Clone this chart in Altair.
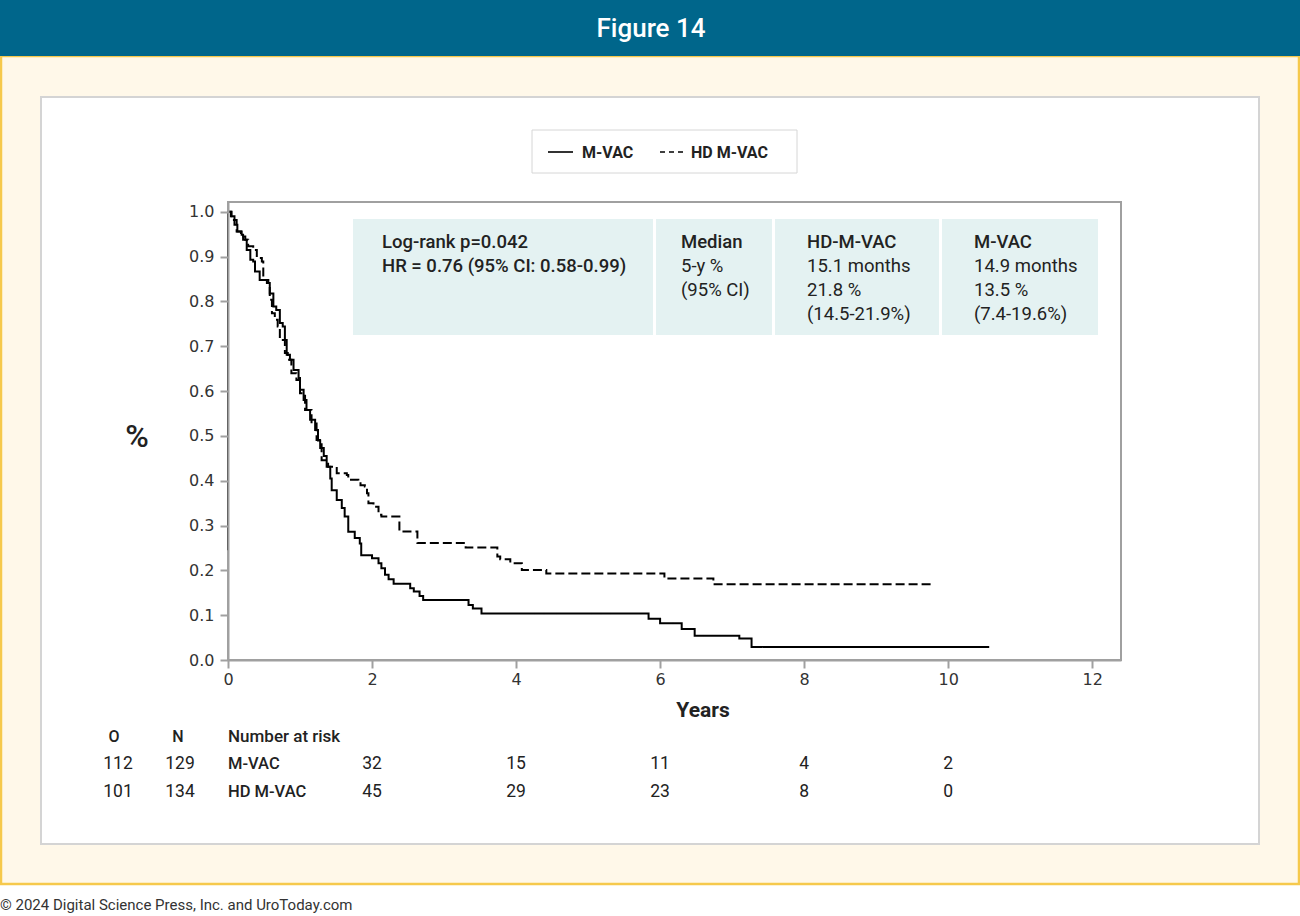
import altair as alt
import pandas as pd

# ---------------- data ----------------
groups = ["M-VAC", "HD M-VAC"]

mvac_t = [0, 0.04, 0.09, 0.13, 0.19, 0.21, 0.26, 0.31, 0.35, 0.375, 0.44, 0.54, 0.58, 0.63,
          0.67, 0.72, 0.76, 0.79, 0.815, 0.86, 0.91, 0.98, 1.0, 1.05, 1.09, 1.14, 1.21, 1.25,
          1.28, 1.33, 1.37, 1.42, 1.44, 1.51, 1.58, 1.62, 1.67, 1.76, 1.83, 1.85, 2.0, 2.09,
          2.13, 2.18, 2.23, 2.30, 2.53, 2.58, 2.66, 2.71, 3.34, 3.40, 3.52, 5.84, 6.0, 6.30,
          6.48, 7.10, 7.27, 10.57]
mvac_s = [1.0, 0.99, 0.971, 0.956, 0.949, 0.938, 0.915, 0.893, 0.889, 0.867, 0.848, 0.841, 0.818,
          0.789, 0.781, 0.752, 0.744, 0.714, 0.681, 0.67, 0.647, 0.629, 0.603, 0.58, 0.558, 0.536,
          0.513, 0.49, 0.473, 0.455, 0.431, 0.405, 0.379, 0.357, 0.339, 0.32, 0.286, 0.272, 0.26,
          0.234, 0.227, 0.216, 0.205, 0.19, 0.18, 0.17, 0.16, 0.153, 0.143, 0.134, 0.123, 0.115,
          0.104, 0.092, 0.082, 0.069, 0.054, 0.048, 0.029, 0.029]

hd_t = [0, 0.05, 0.12, 0.18, 0.24, 0.28, 0.35, 0.40, 0.47, 0.49, 0.56, 0.58, 0.61, 0.65, 0.69,
        0.72, 0.79, 0.83, 0.88, 0.95, 1.0, 1.07, 1.16, 1.23, 1.30, 1.39, 1.51, 1.65, 1.67, 1.81,
        1.84, 1.90, 1.93, 1.95, 2.02, 2.09, 2.13, 2.38, 2.63, 3.30, 3.74, 3.78, 3.92, 4.08, 4.42,
        6.06, 6.74, 9.78]
hd_s = [1.0, 0.982, 0.956, 0.945, 0.938, 0.923, 0.915, 0.897, 0.889, 0.848, 0.841, 0.804, 0.774,
        0.759, 0.744, 0.714, 0.685, 0.67, 0.64, 0.625, 0.595, 0.558, 0.528, 0.491, 0.446, 0.431,
        0.417, 0.413, 0.402, 0.398, 0.39, 0.387, 0.372, 0.35, 0.342, 0.324, 0.32, 0.287, 0.261,
        0.251, 0.231, 0.225, 0.216, 0.201, 0.193, 0.182, 0.169, 0.169]

# vertical segment drawn at time 0
artifact_t = [0, 0]
artifact_s = [0.245, 1.0]

x_ticks = [0, 2, 4, 6, 8, 10, 12]
y_ticks = [0.0, 0.1, 0.2, 0.3, 0.4, 0.5, 0.6, 0.7, 0.8, 0.9, 1.0]

risk_times = [2, 4, 6, 8, 10]
risk_mvac = [32, 15, 11, 4, 2]
risk_hd = [45, 29, 23, 8, 0]
observed = ["112", "101"]
number = ["129", "134"]

title_text = "Figure 14"
footer_text = "© 2024 Digital Science Press, Inc. and UroToday.com"
x_title = "Years"
y_title = "%"
risk_header = ["O", "N", "Number at risk"]

info_col1 = ["Log-rank p=0.042", "HR = 0.76 (95% CI: 0.58-0.99)"]
info_col2_head = "Median"
info_col2 = ["5-y %", "(95% CI)"]
info_col3_head = "HD-M-VAC"
info_col3 = ["15.1 months", "21.8 %", "(14.5-21.9%)"]
info_col4_head = "M-VAC"
info_col4 = ["14.9 months", "13.5 %", "(7.4-19.6%)"]

# ---------------- layout ----------------
W, H = 893, 458
PL, PT = 228, 202
FONT = "Roboto"
one = pd.DataFrame({"a": [0]})


def rx(X):
    return X - PL


def ry(Y):
    return Y - PT


def box(X1, Y1, X2, Y2, fill, stroke=None, sw=0, fo=1.0):
    kw = dict(fill=fill, fillOpacity=fo)
    if stroke:
        kw.update(stroke=stroke, strokeWidth=sw)
    return alt.Chart(one).mark_rect(**kw).encode(
        x=alt.value(rx(X1)), x2=alt.value(rx(X2)), y=alt.value(ry(Y1)), y2=alt.value(ry(Y2)))


def label(X, Y, txt, size=17, weight="normal", align="left", color="#222222",
          font=FONT, baseline="middle", lh=None):
    kw = dict(align=align, baseline=baseline, font=font, fontSize=size,
              fontWeight=weight, color=color)
    if lh:
        kw["lineHeight"] = lh
    return alt.Chart(one).mark_text(**kw).encode(
        x=alt.value(rx(X)), y=alt.value(ry(Y)), text=alt.value(txt))


layers = []
# page background pieces
layers.append(box(1, 56, 1299, 884, "#FFF8E9", "#F6C94C", 2.5))
layers.append(box(0, 0, 1300, 56, "#00668B"))
layers.append(box(41, 97, 1259, 844, "#FFFFFF", "#D4D4D4", 2))
layers.append(label(651, 29, title_text, size=26, weight=500, align="center", color="#FFFFFF"))
layers.append(label(0, 905, footer_text, size=15, color="#333333"))

# legend
layers.append(box(532, 130, 797, 173, "#FFFFFF", "#D6D6D6", 1))
layers.append(alt.Chart(one).mark_rule(color="black", strokeWidth=1.6).encode(
    x=alt.value(rx(548)), x2=alt.value(rx(573)), y=alt.value(ry(152))))
layers.append(alt.Chart(one).mark_rule(color="black", strokeWidth=1.6, strokeDash=[5, 4]).encode(
    x=alt.value(rx(660)), x2=alt.value(rx(686)), y=alt.value(ry(152))))
layers.append(label(582, 153, groups[0], size=16, weight="bold"))
layers.append(label(691, 153, groups[1], size=16, weight="bold"))

# info table
INFO = "#E4F2F2"
FS = 18.5
layers.append(box(353, 219, 653, 335, INFO))
layers.append(box(656, 219, 772, 335, INFO))
layers.append(box(775, 219, 939, 335, INFO))
layers.append(box(942, 219, 1098, 335, INFO))
layers.append(label(382, 233, info_col1, size=FS, weight=500, baseline="top", lh=24))
layers.append(label(681, 233, info_col2_head, size=FS, weight=500, baseline="top"))
layers.append(label(681, 257, info_col2, size=FS, baseline="top", lh=24))
layers.append(label(807, 233, info_col3_head, size=FS, weight=500, baseline="top"))
layers.append(label(807, 257, info_col3, size=FS, baseline="top", lh=24))
layers.append(label(974, 233, info_col4_head, size=FS, weight=500, baseline="top"))
layers.append(label(974, 257, info_col4, size=FS, baseline="top", lh=24))

# plot frame
layers.append(alt.Chart(one).mark_rect(fillOpacity=0, stroke="#A0A0A0", strokeWidth=2).encode(
    x=alt.value(0), x2=alt.value(W), y=alt.value(0), y2=alt.value(H)))

# axis titles
layers.append(label(137, 437, y_title, size=32, weight=500, align="center"))
layers.append(label(703, 711, x_title, size=21, weight="bold", align="center"))

# curves
xscale = alt.Scale(domain=[0, 12.4], nice=False, zero=False)
yscale = alt.Scale(domain=[0, 1.022], nice=False, zero=False)
xaxis = alt.Axis(values=x_ticks, format="d", title=None, grid=False, domainColor="#A0A0A0",
                 domainWidth=2, tickColor="#A0A0A0", tickWidth=2, tickSize=8,
                 labelFont="DejaVu Sans", labelFontSize=16, labelColor="#333333",
                 labelPadding=3, labelFlush=False, zindex=1)
yaxis = alt.Axis(values=y_ticks, format=".1f", title=None, grid=False, domainColor="#A0A0A0",
                 domainWidth=2, tickColor="#A0A0A0", tickWidth=2, tickSize=8,
                 labelFont="DejaVu Sans", labelFontSize=16, labelColor="#333333",
                 labelPadding=6, labelFlush=False, zindex=1)

curves = pd.concat([
    pd.DataFrame({"t": mvac_t, "s": mvac_s, "group": groups[0]}),
    pd.DataFrame({"t": hd_t, "s": hd_s, "group": groups[1]}),
])
layers.append(alt.Chart(curves).mark_line(interpolate="step-after", color="black",
                                          strokeWidth=2).encode(
    x=alt.X("t:Q", scale=xscale, axis=xaxis),
    y=alt.Y("s:Q", scale=yscale, axis=yaxis),
    strokeDash=alt.StrokeDash("group:N", scale=alt.Scale(domain=groups, range=[[1, 0], [9, 4]]),
                              legend=None),
))
art = pd.DataFrame({"t": artifact_t, "s": artifact_s})
layers.append(alt.Chart(art).mark_line(color="black", strokeWidth=1.5).encode(
    x=alt.X("t:Q", scale=xscale), y=alt.Y("s:Q", scale=yscale)))

# risk table
layers.append(label(114, 737, risk_header[0], size=16, weight=500, align="center"))
layers.append(label(178, 737, risk_header[1], size=16, weight=500, align="center"))
layers.append(label(228, 737, risk_header[2], size=17, weight=500))
for i, (Y, g, vals) in enumerate([(764, groups[0], risk_mvac), (792, groups[1], risk_hd)]):
    layers.append(label(118, Y, observed[i], size=17.5, align="center"))
    layers.append(label(180, Y, number[i], size=17.5, align="center"))
    layers.append(label(228, Y, g, size=16.5, weight=500))
    rdf = pd.DataFrame({"t": risk_times, "n": vals})
    layers.append(alt.Chart(rdf).mark_text(font=FONT, fontSize=17.5, color="#222222",
                                           align="center", baseline="middle").encode(
        x=alt.X("t:Q", scale=xscale), y=alt.value(ry(Y)), text="n:Q"))

chart = alt.layer(*layers).properties(
    width=W, height=H,
    padding={"left": PL, "top": PT, "right": 1300 - PL - W, "bottom": 916 - PT - H},
    autosize=alt.AutoSizeParams(type="none"),
).configure_view(stroke=None).configure(background="white")

chart.save("out.html", embed_options={"renderer": "svg", "actions": False})
